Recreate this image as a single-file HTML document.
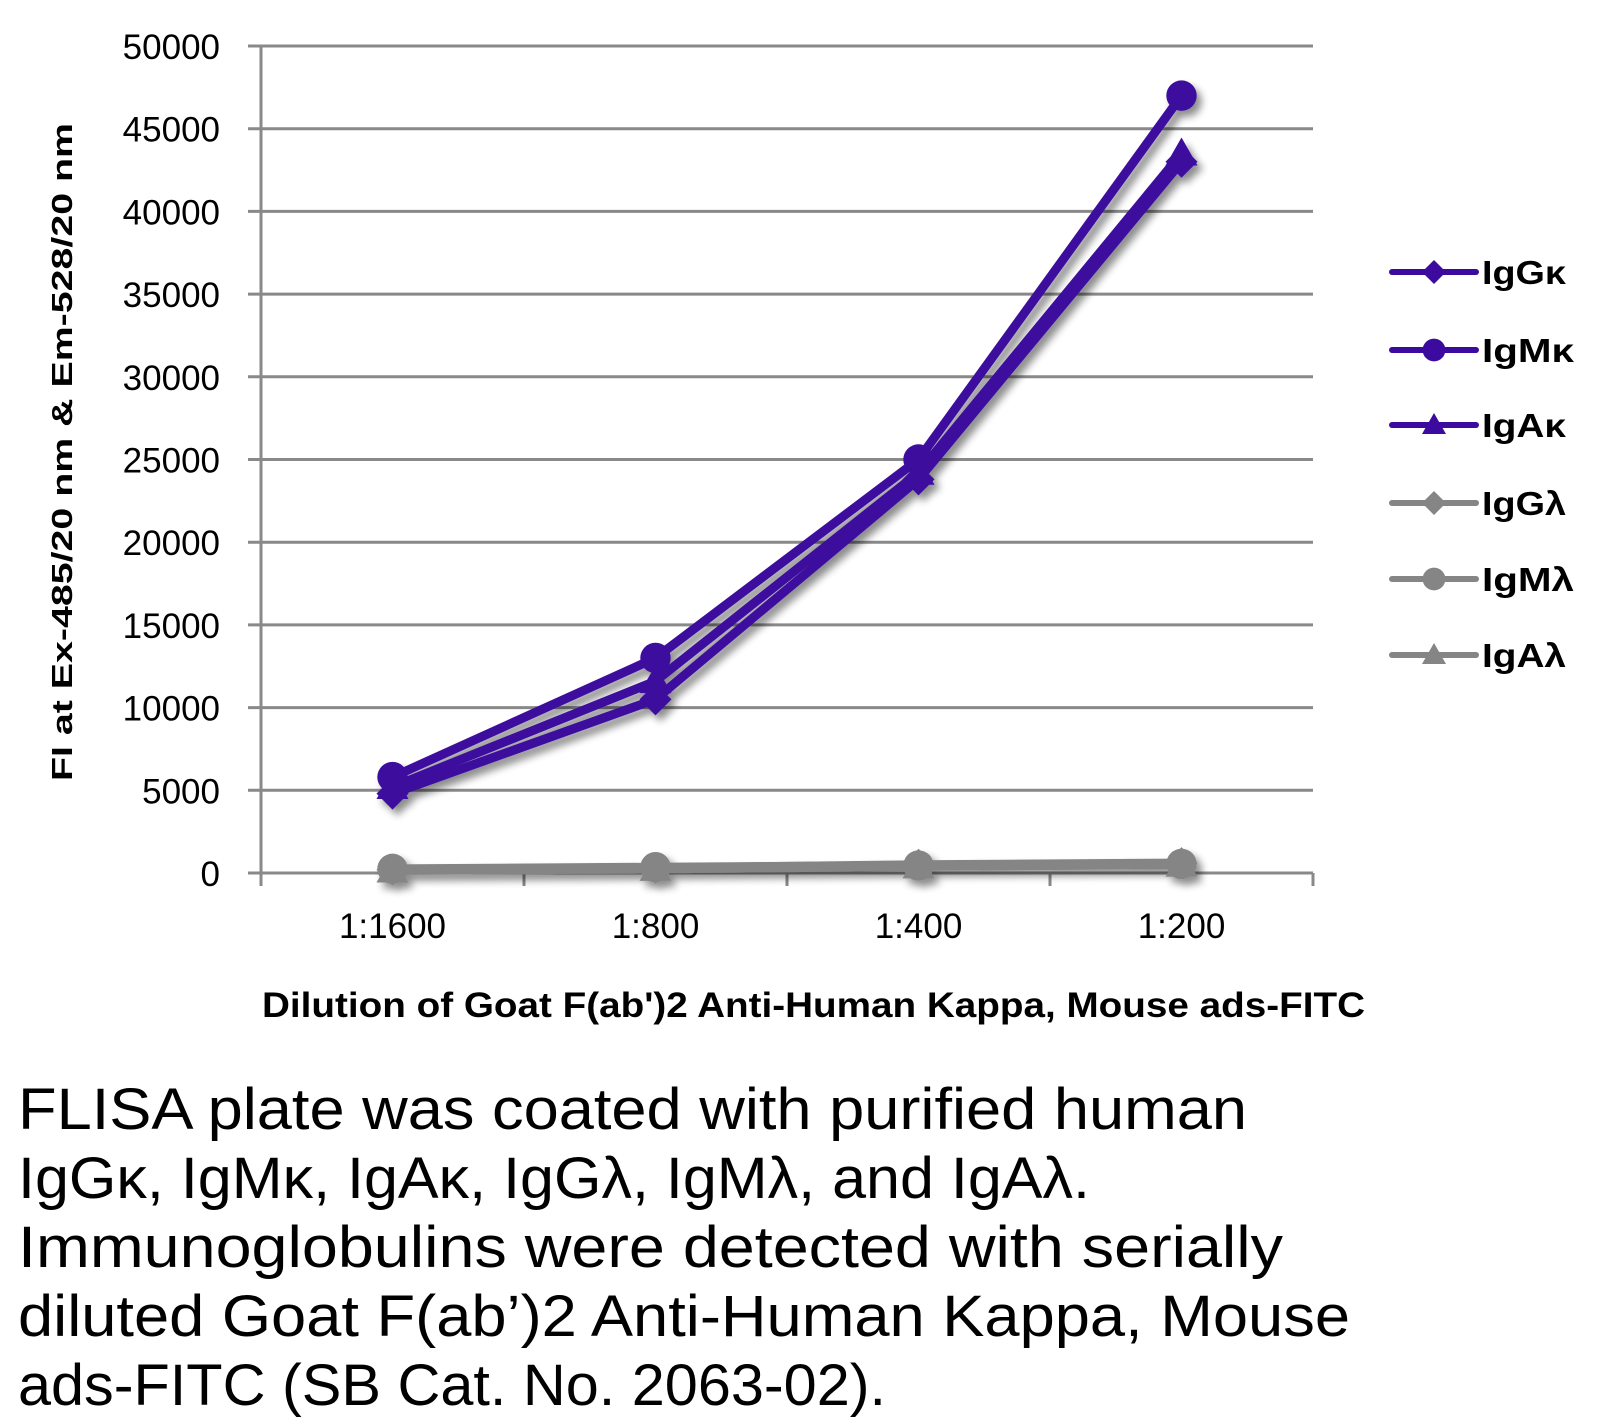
<!DOCTYPE html>
<html><head><meta charset="utf-8">
<style>
html,body{margin:0;padding:0;background:#fff;}
svg{display:block;font-family:"Liberation Sans",sans-serif;}
</style></head>
<body>
<svg id="chart" width="1604" height="1428" viewBox="0 0 1604 1428" xmlns="http://www.w3.org/2000/svg">
<defs>
<filter id="sh" x="-20%" y="-20%" width="140%" height="140%">
<feGaussianBlur in="SourceAlpha" stdDeviation="4"/>
<feOffset dx="5" dy="6" result="b"/>
<feComponentTransfer><feFuncA type="linear" slope="0.45"/></feComponentTransfer>
<feMerge><feMergeNode/><feMergeNode in="SourceGraphic"/></feMerge>
</filter>
</defs>
<g id="grid"></g>
<g id="axes"></g>
<g id="series" filter="url(#sh)"></g>
<g id="legend"></g>
<text transform="translate(72,452) rotate(-90)" text-anchor="middle" font-size="29" font-weight="bold" textLength="658" lengthAdjust="spacingAndGlyphs">FI at Ex-485/20 nm &amp; Em-528/20 nm</text>
<text x="262" y="1017" font-size="35" font-weight="bold" textLength="1103" lengthAdjust="spacingAndGlyphs">Dilution of Goat F(ab')2 Anti-Human Kappa, Mouse ads-FITC</text>
<g font-size="58" fill="#000">
<text x="18" y="1129" textLength="1229" lengthAdjust="spacingAndGlyphs">FLISA plate was coated with purified human</text>
<text x="18" y="1198" textLength="1072" lengthAdjust="spacingAndGlyphs">IgGκ, IgMκ, IgAκ, IgGλ, IgMλ, and IgAλ.</text>
<text x="18" y="1267" textLength="1265" lengthAdjust="spacingAndGlyphs">Immunoglobulins were detected with serially</text>
<text x="18" y="1336" textLength="1332" lengthAdjust="spacingAndGlyphs">diluted Goat F(ab’)2 Anti-Human Kappa, Mouse</text>
<text x="18" y="1405" textLength="868" lengthAdjust="spacingAndGlyphs">ads-FITC (SB Cat. No. 2063-02).</text>
</g>
</svg>
<script>
const categories = ["1:1600","1:800","1:400","1:200"];
const yTicks = [0,5000,10000,15000,20000,25000,30000,35000,40000,45000,50000];
const seriesNames = ["IgGκ","IgMκ","IgAκ","IgGλ","IgMλ","IgAλ"];
const igGk = [4800,10500,23800,43000];
const igMk = [5800,13000,25000,47000];
const igAk = [5200,11600,24200,43500];
const igGl = [200,300,500,600];
const igMl = [250,350,450,550];
const igAl = [150,250,400,500];

const NS="http://www.w3.org/2000/svg";
const X0=261, X1=1313, Y0=873, Y1=46, YMAX=50000;
const step=(X1-X0)/categories.length;
function xPos(i){return X0+step*(i+0.5);}
function yPos(v){return Y0-(v/YMAX)*(Y0-Y1);}
function mk(tag,attrs,parent){const e=document.createElementNS(NS,tag);for(const k in attrs)e.setAttribute(k,attrs[k]);parent.appendChild(e);return e;}
const grid=document.getElementById('grid'),axes=document.getElementById('axes'),ser=document.getElementById('series'),leg=document.getElementById('legend');
yTicks.forEach(v=>{
  const y=yPos(v);
  const l=mk('line',{x1:248,x2:X1,y1:y,y2:y,stroke:'#898989','stroke-width':3},grid);
  
  
  const t=mk('text',{x:220,y:y+13,'text-anchor':'end','font-size':35},axes);
  t.textContent=v;
  
  
});
const ax=mk('line',{x1:X0,x2:X0,y1:Y1,y2:886,stroke:'#898989','stroke-width':3},axes);


for(let i=0;i<=categories.length;i++){
  const x=X0+step*i;
  const tk=mk('line',{x1:x,x2:x,y1:Y0,y2:886,stroke:'#898989','stroke-width':3},axes);
  
  
}
categories.forEach((c,i)=>{
  const t=mk('text',{x:xPos(i),y:938,'text-anchor':'middle','font-size':35},axes);
  t.textContent=c;
  
  
});
function marker(shape,x,y,col,parent,s){
  let e;
  if(shape==='diamond') e=mk('polygon',{points:`${x},${y-s} ${x+s},${y} ${x},${y+s} ${x-s},${y}`,fill:col},parent);
  else if(shape==='circle') e=mk('circle',{cx:x,cy:y,r:s*0.95,fill:col},parent);
  else e=mk('polygon',{points:`${x},${y-s} ${x+s},${y+s*0.75} ${x-s},${y+s*0.75}`,fill:col},parent);
  return e;
}
const P='#3c0a9e', G='#858585';
const all=[[igGl,G,'diamond'],[igMl,G,'circle'],[igAl,G,'triangle'],[igGk,P,'diamond'],[igAk,P,'triangle'],[igMk,P,'circle']];
const nameIdx=[3,4,5,0,2,1];
all.forEach(([vals,col,shape],k)=>{
  const g=mk('g',{},ser);
  
  
  const pts=vals.map((v,i)=>xPos(i)+','+yPos(v)).join(' ');
  const pl=mk('polyline',{points:pts,fill:'none',stroke:col,'stroke-width':9,'stroke-linejoin':'round'},g);
  
  
  vals.forEach((v,i)=>{
    const m=marker(shape,xPos(i),yPos(v),col,g,16);
    
    
  });
});
const legCols=[P,P,P,G,G,G], legShapes=['diamond','circle','triangle','diamond','circle','triangle'];
const legY=[272,350,425,503,579,655];
seriesNames.forEach((n,i)=>{
  const g=mk('g',{},leg);
  
  
  mk('line',{x1:1392,x2:1476,y1:legY[i],y2:legY[i],stroke:legCols[i],'stroke-width':6,'stroke-linecap':'round'},g);
  marker(legShapes[i],1434,legY[i],legCols[i],g,12);
  const t=mk('text',{x:1482,y:legY[i]+12,'font-size':33,'font-weight':'bold',textLength:n.indexOf('M')>0?92:84,lengthAdjust:'spacingAndGlyphs'},g);
  t.textContent=n;
});
</script>
</body></html>
